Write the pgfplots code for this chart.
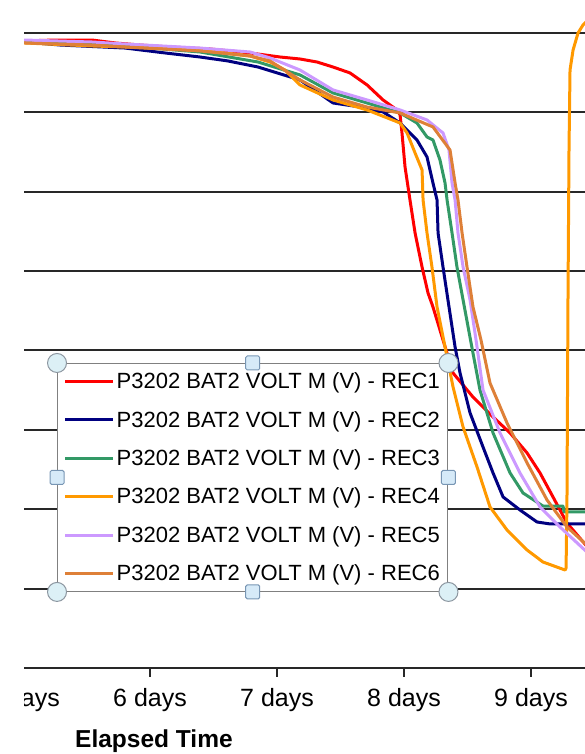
\documentclass[border=0pt]{standalone}
\usepackage{pgfplots}
\pgfplotsset{compat=1.18}
\usepackage{fontspec}
\setmainfont{Liberation Sans}
\definecolor{rec1}{RGB}{255,0,0}
\definecolor{rec2}{RGB}{0,0,128}
\definecolor{rec3}{RGB}{51,153,102}
\definecolor{rec4}{RGB}{255,153,0}
\definecolor{rec5}{RGB}{204,153,255}
\definecolor{rec6}{RGB}{222,128,56}
\definecolor{gridc}{RGB}{40,40,40}
\definecolor{hcirc}{RGB}{220,240,246}
\definecolor{hcircb}{RGB}{140,150,160}
\definecolor{hsq}{RGB}{214,234,248}
\definecolor{hsqb}{RGB}{120,150,180}
\definecolor{legb}{RGB}{128,128,128}
\begin{document}
\begin{tikzpicture}
\useasboundingbox (0pt,0pt) rectangle (585pt,754pt);
\begin{scope}
\clip (24pt,0pt) rectangle (585pt,754pt);
\begin{axis}[
  at={(20pt,86pt)}, anchor=south west,
  scale only axis, width=565pt, height=668pt,
  xmin=4.9764, xmax=9.425, ymin=0, ymax=8.413,
  axis x line*=bottom, axis y line*=left,
  y axis line style={draw=none},
  x axis line style={gridc, line width=2pt, -},
  xtick={5,6,7,8,9},
  xticklabels={5 days,6 days,7 days,8 days,9 days},
  ytick={1,2,3,4,5,6,7,8}, yticklabels={},
  ytick style={draw=none},
  xtick style={gridc, line width=1.5pt},
  tick align=outside, major tick length=9pt,
  ymajorgrids, grid style={gridc, line width=2pt},
  /pgf/number format/assume math mode=true,
  xticklabel style={font=\fontsize{25}{29}\selectfont, yshift=-8pt},
  xlabel={Elapsed Time},
  xlabel style={at={(axis description cs:0.0973,0)}, anchor=base west, yshift=-79pt, inner sep=0pt, font=\fontsize{24.5}{28}\selectfont\bfseries},
  legend style={name=leg, at={(axis description cs:0.0655,0.4566)}, anchor=north west,
    draw=legb, line width=1.3pt, fill=white,
    font=\fontsize{22}{25}\selectfont, inner xsep=6pt, inner ysep=7pt, row sep=17pt,
    nodes={inner sep=2pt}},
  legend cell align=left,
  legend image code/.code={\draw[#1, line width=3pt] (0pt,0pt) -- (48pt,0pt);},
  every axis plot/.append style={line width=3pt, line join=round},
]
\addplot[rec1] coordinates {(5.008,7.897)(5.252,7.909)(5.543,7.909)(5.724,7.872)(5.921,7.846)(6.157,7.821)(6.472,7.796)(6.787,7.746)(7.024,7.695)(7.181,7.670)(7.315,7.632)(7.441,7.569)(7.575,7.494)(7.709,7.343)(7.835,7.154)(7.945,7.028)(7.969,6.965)(7.984,6.738)(8.008,6.310)(8.047,5.894)(8.087,5.479)(8.142,5.050)(8.189,4.723)(8.228,4.547)(8.386,3.715)(8.543,3.413)(8.701,3.161)(8.835,2.960)(8.969,2.708)(9.071,2.456)(9.173,2.154)(9.283,1.826)(9.465,1.486)};
\addlegendentry{P3202 BAT2 VOLT M (V) - REC1}
\addplot[rec2] coordinates {(5.008,7.884)(5.291,7.846)(5.803,7.808)(6.118,7.746)(6.394,7.695)(6.614,7.645)(6.850,7.569)(7.181,7.406)(7.441,7.116)(7.709,7.053)(7.835,7.003)(7.969,6.864)(8.102,6.650)(8.181,6.436)(8.228,6.108)(8.260,5.894)(8.268,5.479)(8.307,5.050)(8.346,4.635)(8.402,4.043)(8.441,3.715)(8.520,3.212)(8.622,2.783)(8.701,2.456)(8.780,2.154)(8.913,1.990)(9.047,1.839)(9.150,1.814)(9.465,1.814)};
\addlegendentry{P3202 BAT2 VOLT M (V) - REC2}
\addplot[rec3] coordinates {(5.008,7.897)(5.803,7.834)(6.394,7.758)(6.850,7.632)(7.181,7.469)(7.441,7.242)(7.709,7.116)(7.969,6.990)(8.102,6.864)(8.181,6.688)(8.228,6.650)(8.283,6.398)(8.323,6.108)(8.339,5.894)(8.378,5.479)(8.417,5.050)(8.465,4.635)(8.528,4.093)(8.598,3.501)(8.701,2.960)(8.835,2.456)(8.937,2.204)(9.094,2.040)(9.252,2.040)(9.260,1.965)(9.465,1.965)};
\addlegendentry{P3202 BAT2 VOLT M (V) - REC3}
\addplot[rec4] coordinates {(5.008,7.872)(5.543,7.834)(5.803,7.821)(6.394,7.783)(6.787,7.708)(6.945,7.632)(7.063,7.531)(7.181,7.343)(7.441,7.154)(7.709,7.028)(7.969,6.864)(8.024,6.738)(8.087,6.486)(8.142,6.272)(8.150,5.894)(8.181,5.479)(8.220,5.050)(8.260,4.547)(8.323,4.043)(8.386,3.539)(8.465,3.035)(8.575,2.531)(8.677,2.028)(8.811,1.738)(8.969,1.486)(9.094,1.335)(9.268,1.234)(9.276,1.259)(9.283,2.116)(9.291,4.635)(9.299,6.524)(9.307,7.531)(9.331,7.783)(9.370,7.997)(9.409,8.098)(9.465,8.186)};
\addlegendentry{P3202 BAT2 VOLT M (V) - REC4}
\addplot[rec5] coordinates {(5.008,7.909)(5.543,7.884)(5.803,7.859)(6.394,7.808)(6.787,7.758)(6.945,7.683)(7.181,7.531)(7.441,7.280)(7.709,7.154)(7.969,7.028)(8.181,6.902)(8.307,6.738)(8.354,6.524)(8.378,6.108)(8.402,5.894)(8.425,5.479)(8.465,5.050)(8.520,4.635)(8.567,4.131)(8.622,3.501)(8.756,2.960)(8.913,2.456)(9.071,2.028)(9.228,1.776)(9.465,1.423)};
\addlegendentry{P3202 BAT2 VOLT M (V) - REC5}
\addplot[rec6] coordinates {(5.008,7.872)(5.543,7.846)(5.803,7.821)(6.394,7.771)(6.787,7.708)(6.945,7.645)(7.181,7.406)(7.441,7.191)(7.709,7.065)(7.969,6.990)(8.228,6.814)(8.362,6.524)(8.402,6.108)(8.425,5.894)(8.457,5.479)(8.496,5.050)(8.543,4.547)(8.606,4.131)(8.677,3.589)(8.811,3.086)(8.969,2.582)(9.126,2.116)(9.283,1.776)(9.465,1.511)};
\addlegendentry{P3202 BAT2 VOLT M (V) - REC6}
\end{axis}
\foreach \a in {north west,north east,south west,south east}{
  \node[circle, draw=hcircb, fill=hcirc, line width=1pt, minimum size=19pt, inner sep=0pt] at (leg.\a) {};}
\foreach \a in {north,south,west,east}{
  \node[rectangle, rounded corners=1.5pt, draw=hsqb, fill=hsq, line width=1pt, minimum size=14pt, inner sep=0pt] at (leg.\a) {};}
\end{scope}
\end{tikzpicture}
\end{document}
